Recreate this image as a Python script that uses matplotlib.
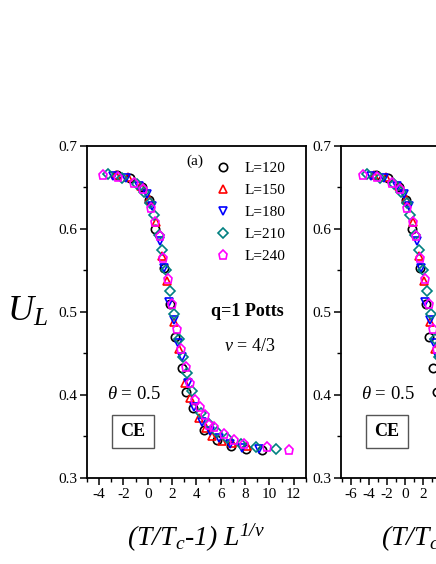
import numpy as np
import matplotlib
matplotlib.use('Agg')
import matplotlib.pyplot as plt
from matplotlib.ticker import MultipleLocator

plt.rcParams['font.family'] = ['Liberation Serif', 'DejaVu Serif']
plt.rcParams['mathtext.fontset'] = 'custom'
plt.rcParams['mathtext.rm'] = 'Liberation Serif:italic'
plt.rcParams['mathtext.it'] = 'Liberation Serif:italic'
plt.rcParams['mathtext.bf'] = 'Liberation Serif:bold'
plt.rcParams['axes.unicode_minus'] = False

labels = ['L=120', 'L=150', 'L=180', 'L=210', 'L=240']

# panel (a)
x120 = [-2.5, -1.45, -0.45, 0.07, 0.6, 1.31, 1.8, 2.27, 2.82, 3.18, 3.73, 4.61, 5.72, 6.82, 8.06, 9.4]
y120 = [0.665, 0.661, 0.650, 0.635, 0.600, 0.553, 0.510, 0.470, 0.432, 0.404, 0.384, 0.358, 0.346, 0.338, 0.335, 0.334]
x150 = [-2.6, -1.6, -0.55, 0.1, 0.65, 1.2, 1.59, 2.13, 2.55, 3.1, 3.51, 4.2, 4.75, 5.3, 6.1, 6.96, 8.2]
y150 = [0.665, 0.663, 0.652, 0.636, 0.608, 0.568, 0.537, 0.488, 0.455, 0.414, 0.396, 0.372, 0.360, 0.351, 0.345, 0.342, 0.338]
x180 = [-2.9, -1.8, -0.7, -0.1, 0.35, 1.03, 1.35, 1.72, 2.13, 2.47, 2.83, 3.3, 3.79, 4.48, 5.1, 5.85, 6.8, 7.78, 9.16]
y180 = [0.664, 0.662, 0.652, 0.642, 0.628, 0.585, 0.553, 0.512, 0.490, 0.463, 0.446, 0.414, 0.386, 0.368, 0.357, 0.348, 0.341, 0.336, 0.335]
x210 = [-3.24, -2.13, -0.89, -0.35, 0.21, 0.48, 0.89, 1.17, 1.53, 1.86, 2.19, 2.55, 2.91, 3.24, 3.6, 4.34, 5.0, 5.72, 6.55, 7.64, 8.88, 10.54]
y210 = [0.666, 0.662, 0.654, 0.645, 0.631, 0.617, 0.593, 0.575, 0.551, 0.525, 0.497, 0.468, 0.446, 0.426, 0.405, 0.378, 0.365, 0.355, 0.348, 0.341, 0.337, 0.335]
x240 = [-3.65, -2.41, -1.12, -0.43, 0.26, 0.62, 0.98, 1.26, 1.64, 2.0, 2.41, 2.77, 3.13, 3.5, 3.87, 4.28, 4.67, 5.03, 5.44, 6.27, 7.1, 7.92, 9.77, 11.64]
y240 = [0.665, 0.663, 0.655, 0.648, 0.625, 0.608, 0.591, 0.565, 0.540, 0.510, 0.480, 0.455, 0.434, 0.414, 0.394, 0.385, 0.376, 0.364, 0.361, 0.353, 0.346, 0.341, 0.337, 0.334]

# panel (b), cut off at the right edge
bx120 = [-3.25, -1.9, -0.6, 0.09, 0.78, 1.7, 2.34, 2.7, 3.15, 3.6, 4.3, 5.5, 7.0, 8.6, 10.3, 12.0]
by120 = [0.665, 0.661, 0.650, 0.635, 0.600, 0.553, 0.510, 0.470, 0.432, 0.404, 0.384, 0.358, 0.346, 0.338, 0.335, 0.334]
bx150 = [-3.4, -2.1, -0.7, 0.13, 0.85, 1.56, 2.07, 2.77, 3.3, 4.0, 4.6, 5.5, 6.2, 6.9, 7.9, 9.0, 10.7]
by150 = [0.665, 0.663, 0.652, 0.636, 0.608, 0.568, 0.537, 0.488, 0.455, 0.414, 0.396, 0.372, 0.360, 0.351, 0.345, 0.342, 0.338]
bx180 = [-3.8, -2.3, -0.9, -0.13, 0.45, 1.34, 1.75, 2.24, 2.77, 3.2, 3.7, 4.3, 4.9, 5.8, 6.6, 7.6, 8.8, 10.1, 11.9]
by180 = [0.664, 0.662, 0.652, 0.642, 0.628, 0.585, 0.553, 0.512, 0.490, 0.463, 0.446, 0.414, 0.386, 0.368, 0.357, 0.348, 0.341, 0.336, 0.335]
bx210 = [-4.2, -2.8, -1.2, -0.45, 0.27, 0.62, 1.15, 1.52, 1.99, 2.42, 2.85, 3.3, 3.8, 4.2, 4.7, 5.6, 6.5, 7.4, 8.5, 9.9, 11.5, 13.7]
by210 = [0.666, 0.662, 0.654, 0.645, 0.631, 0.617, 0.593, 0.575, 0.551, 0.525, 0.497, 0.468, 0.446, 0.426, 0.405, 0.378, 0.365, 0.355, 0.348, 0.341, 0.337, 0.335]
bx240 = [-4.7, -3.07, -1.48, -0.56, 0.26, 0.85, 1.22, 1.67, 2.22, 2.7, 3.15, 3.6, 4.1, 4.6, 5.0, 5.6, 6.1, 6.5, 7.1, 8.2, 9.2, 10.3, 12.7, 15.1]
by240 = [0.665, 0.663, 0.655, 0.648, 0.625, 0.608, 0.591, 0.565, 0.540, 0.510, 0.480, 0.455, 0.434, 0.414, 0.394, 0.385, 0.376, 0.364, 0.361, 0.353, 0.346, 0.341, 0.337, 0.334]

styles = [('o', 'black'), ('^', '#ff0000'), ('v', '#0000ff'), ('D', '#008080'), ('p', '#ff00ff')]
msizes = [6, 6, 6, 5.2, 6.5]

fig = plt.figure(figsize=(4.36, 5.64), dpi=100)
axa = fig.add_axes([0.1995, 0.1525, 0.502, 0.5887])
axb = fig.add_axes([0.782, 0.1525, 0.502, 0.5887])

xlabel = r'(T/T$_c$-1) L$^{1/\nu}$'


def style_axes(ax, xlim):
    ax.set_xlim(*xlim)
    ax.set_ylim(0.3, 0.7)
    ax.xaxis.set_major_locator(MultipleLocator(2))
    ax.xaxis.set_minor_locator(MultipleLocator(1))
    ax.yaxis.set_major_locator(MultipleLocator(0.1))
    ax.yaxis.set_minor_locator(MultipleLocator(0.05))
    ax.tick_params(which='major', direction='out', length=5, width=1.1, labelsize=11, pad=2)
    ax.tick_params(which='minor', direction='out', length=3, width=1.0)
    for s in ax.spines.values():
        s.set_linewidth(1.3)
    ax.set_xlabel(xlabel, fontsize=20, fontstyle='italic', labelpad=15)
    ax.text(0.215, 0.25, r'$\theta$ = 0.5', transform=ax.transAxes, fontsize=13.5,
            ha='center', va='center')
    ax.text(0.21, 0.14, 'CE', transform=ax.transAxes, fontsize=13, fontweight='bold',
            ha='center', va='center',
            bbox=dict(boxstyle='square,pad=0.45', fc='white', ec='#555555', lw=1.0))


series_a = [(x120, y120), (x150, y150), (x180, y180), (x210, y210), (x240, y240)]
series_b = [(bx120, by120), (bx150, by150), (bx180, by180), (bx210, by210), (bx240, by240)]

for (xs, ys), (m, c), ms, lab in zip(series_a, styles, msizes, labels):
    axa.plot(xs, ys, linestyle='none', marker=m, ms=ms, mfc='none', mec=c, mew=1.2, label=lab)
for (xs, ys), (m, c), ms in zip(series_b, styles, msizes):
    axb.plot(xs, ys, linestyle='none', marker=m, ms=ms, mfc='none', mec=c, mew=1.2)

style_axes(axa, (-5, 13))
style_axes(axb, (-7.1, 17.2))

axa.set_ylabel(r'$U_L$', fontsize=26, rotation=0, va='center')
axa.yaxis.set_label_coords(-0.27, 0.5)

axa.legend(loc='upper left', bbox_to_anchor=(0.523, 0.995), frameon=False, fontsize=11,
           handlelength=1.0, handletextpad=0.9, labelspacing=0.55, borderpad=0.4)
axa.text(0.495, 0.975, '(a)', transform=axa.transAxes, fontsize=11, ha='center', va='top')
axa.text(0.735, 0.5, 'q=1 Potts', transform=axa.transAxes, fontsize=13, fontweight='bold',
         ha='center', va='center')
axa.text(0.745, 0.395, r'$\nu$ = 4/3', transform=axa.transAxes, fontsize=13,
         ha='center', va='center')

fig.savefig('out.png', dpi=100)
